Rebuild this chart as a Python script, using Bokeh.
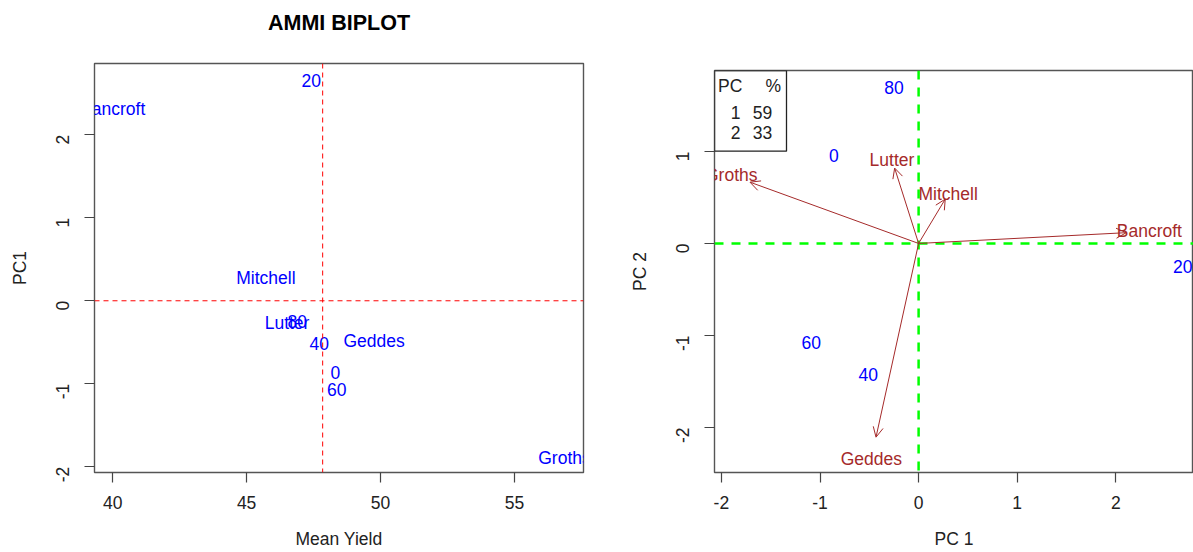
import math
from bokeh.plotting import figure
from bokeh.layouts import row, column
from bokeh.models import (ColumnDataSource, Span, Range1d, FixedTicker, Arrow, OpenHead,
                          BoxAnnotation)
from bokeh.core.properties import value
from bokeh.embed import file_html
from bokeh.resources import INLINE

# ---------------- data ----------------
genotypes = ["Bancroft", "Groths", "Mitchell", "Lutter", "Geddes"]
environments = ["0", "20", "40", "60", "80"]

# left panel: mean yield vs PC1
gen_mean_yield = [40.00, 56.87, 45.72, 46.51, 49.76]
gen_pc1_left = [2.31, -1.89, 0.27, -0.27, -0.49]
env_mean_yield = [48.31, 47.41, 47.71, 48.37, 46.89]
env_pc1_left = [-0.86, 2.65, -0.51, -1.07, -0.25]
grand_mean = 47.84

# right panel: PC1 vs PC2 biplot
gen_pc1 = [2.34, -1.90, 0.30, -0.27, -0.48]
gen_pc2 = [0.13, 0.74, 0.535, 0.91, -2.34]
env_pc1 = [-0.86, 2.68, -0.51, -1.09, -0.25]
env_pc2 = [0.96, -0.25, -1.43, -1.08, 1.70]

pc_ids = ["1", "2"]
pc_percent = ["59", "33"]

left_x_ticks = [40, 45, 50, 55]
left_y_ticks = [-2, -1, 0, 1, 2]
right_x_ticks = [-2, -1, 0, 1, 2]
right_y_ticks = [-2, -1, 0, 1]

title_text = "AMMI BIPLOT"

# ---------------- styling ----------------
FONT = "Liberation Sans"
FS = "17.5px"
BLUE = "#0000FF"
BROWN = "#A52A2A"
ARROW_SCALE = 0.9


def style(p, xticks, yticks, xlabel, ylabel):
    p.outline_line_color = "#555555"
    p.outline_line_width = 1.4
    p.grid.visible = False
    p.background_fill_color = "white"
    p.border_fill_color = "white"
    p.xaxis.ticker = FixedTicker(ticks=xticks)
    p.yaxis.ticker = FixedTicker(ticks=yticks)
    p.xaxis.major_label_overrides = {t: ("-" + str(abs(t)) if t < 0 else str(t)) for t in xticks}
    p.yaxis.major_label_overrides = {t: ("-" + str(abs(t)) if t < 0 else str(t)) for t in yticks}
    p.xaxis.axis_label = xlabel
    p.yaxis.axis_label = ylabel
    for ax in (p.xaxis, p.yaxis):
        ax.axis_line_color = None
        ax.major_tick_in = 0
        ax.major_tick_out = 10
        ax.major_tick_line_color = "#444444"
        ax.major_tick_line_width = 1.2
        ax.minor_tick_line_color = None
        ax.major_label_text_font = FONT
        ax.major_label_text_font_size = FS
        ax.major_label_text_color = "#222222"
        ax.axis_label_text_font = FONT
        ax.axis_label_text_font_size = FS
        ax.axis_label_text_font_style = "normal"
        ax.axis_label_text_color = "#222222"
    p.yaxis.major_label_orientation = math.pi / 2
    p.xaxis.major_label_standoff = 13
    p.yaxis.major_label_standoff = 22
    p.xaxis.axis_label_standoff = 17
    p.yaxis.axis_label_standoff = 17


# ---------------- title strip (its frame is aligned with the left panel's frame) ----------------
T_W, T_H = 600, 40
L_LEFT, L_RIGHT = 94, 17
tf = figure(width=T_W, height=T_H, output_backend="svg", toolbar_location=None,
            x_range=Range1d(0, 1), y_range=Range1d(0, T_H),
            x_axis_location=None, y_axis_location=None,
            min_border_left=0, min_border_right=0, min_border_top=0, min_border_bottom=0)
tf.grid.visible = False
tf.outline_line_color = None
tf.text(x=[0.5], y=[T_H - 22], text=[title_text],
        text_align="center", text_baseline="middle", text_font=value(FONT),
        text_font_size="21.5px", text_font_style="bold", text_color="black")

# ---------------- left panel ----------------
lx0, lx1 = 39.32, 57.58
ly0, ly1 = -2.07, 2.86
L_W, L_H, L_TOP, L_BOTTOM = 600, 552 - T_H, 63 - T_H, 80
p1 = figure(width=L_W, height=L_H, output_backend="svg", toolbar_location=None,
            x_range=Range1d(lx0, lx1), y_range=Range1d(ly0, ly1),
            min_border_left=L_LEFT, min_border_right=L_RIGHT,
            min_border_top=L_TOP, min_border_bottom=L_BOTTOM)
style(p1, left_x_ticks, left_y_ticks, "Mean Yield", "PC1")

p1.add_layout(Span(location=0, dimension="width", line_color="#FF0000", line_dash="5 4", line_width=1))
p1.add_layout(Span(location=grand_mean, dimension="height", line_color="#FF0000", line_dash="5 4", line_width=1))

src_l = ColumnDataSource(dict(x=gen_mean_yield + env_mean_yield,
                              y=gen_pc1_left + env_pc1_left,
                              t=genotypes + environments))
p1.text(x="x", y="y", text="t", source=src_l, text_color=BLUE, text_font=value(FONT),
        text_font_size=FS, text_align="center", text_baseline="middle")

# ---------------- right panel ----------------
rx0, rx1 = -2.07, 2.788
ry0, ry1 = -2.49, 1.88
R_W, R_H, R_LEFT, R_RIGHT, R_TOP, R_BOTTOM = 593, 552, 114, 0, 70, 80
p2 = figure(width=R_W, height=R_H, output_backend="svg", toolbar_location=None,
            x_range=Range1d(rx0, rx1), y_range=Range1d(ry0, ry1),
            min_border_left=R_LEFT, min_border_right=R_RIGHT,
            min_border_top=R_TOP, min_border_bottom=R_BOTTOM)
style(p2, right_x_ticks, right_y_ticks, "PC 1", "PC 2")

p2.add_layout(Span(location=0, dimension="width", line_color="#00FF00", line_dash="9 8", line_width=2.5))
p2.add_layout(Span(location=0, dimension="height", line_color="#00FF00", line_dash="9 8", line_width=2.5))

arr_src = ColumnDataSource(dict(x0=[0] * len(gen_pc1), y0=[0] * len(gen_pc2),
                                x1=[v * ARROW_SCALE for v in gen_pc1],
                                y1=[v * ARROW_SCALE for v in gen_pc2]))
p2.add_layout(Arrow(end=OpenHead(size=10, line_color=BROWN, line_width=1),
                    x_start="x0", y_start="y0", x_end="x1", y_end="y1",
                    source=arr_src, line_color=BROWN, line_width=1))

src_g = ColumnDataSource(dict(x=gen_pc1, y=gen_pc2, t=genotypes))
p2.text(x="x", y="y", text="t", source=src_g, text_color=BROWN, text_font=value(FONT),
        text_font_size=FS, text_align="center", text_baseline="middle")
src_e = ColumnDataSource(dict(x=env_pc1, y=env_pc2, t=environments))
p2.text(x="x", y="y", text="t", source=src_e, text_color=BLUE, text_font=value(FONT),
        text_font_size=FS, text_align="center", text_baseline="middle")

# legend table (positions in pixels from frame's top-left corner)
fw, fh = R_W - R_LEFT - R_RIGHT, R_H - R_TOP - R_BOTTOM
ppx = fw / (rx1 - rx0)
ppy = fh / (ry1 - ry0)


def fx(px):
    return rx0 + px / ppx


def fy(py):
    return ry1 - py / ppy


p2.add_layout(BoxAnnotation(left=fx(0), right=fx(72), top=fy(0), bottom=fy(80.7),
                            fill_color=None, fill_alpha=0, line_color="#222222",
                            line_alpha=1.0, line_width=1.3))
p2.text(x=[fx(3.5)], y=[fy(15)], text=["PC"], text_color="#222222", text_font=value(FONT),
        text_font_size=FS, text_align="left", text_baseline="middle")
p2.text(x=[fx(66.5)], y=[fy(15)], text=["%"], text_color="#222222", text_font=value(FONT),
        text_font_size=FS, text_align="right", text_baseline="middle")
tab = ColumnDataSource(dict(xi=[fx(21)] * 2, xp=[fx(48)] * 2,
                            y=[fy(41.7), fy(61.7)], i=pc_ids, pct=pc_percent))
p2.text(x="xi", y="y", text="i", source=tab, text_color="#222222", text_font=value(FONT),
        text_font_size=FS, text_align="center", text_baseline="middle")
p2.text(x="xp", y="y", text="pct", source=tab, text_color="#222222", text_font=value(FONT),
        text_font_size=FS, text_align="center", text_baseline="middle")

layout = row(column(tf, p1), p2)
open("out.html", "w").write(file_html(layout, INLINE))
